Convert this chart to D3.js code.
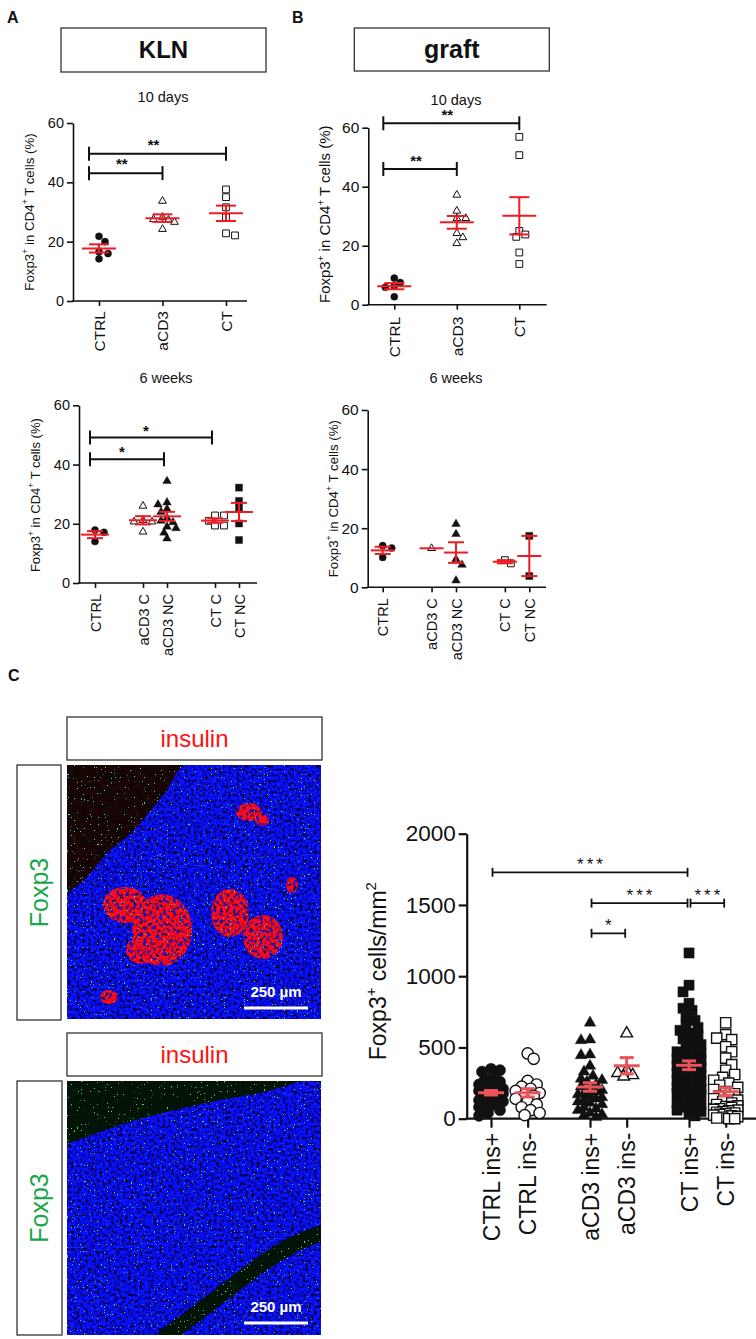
<!DOCTYPE html>
<html>
<head>
<meta charset="utf-8">
<script src="https://cdn.jsdelivr.net/npm/d3@7"></script>
<style>
  body { margin: 0; background: #fff; }
  svg { display: block; font-family: "Liberation Sans", Arial, sans-serif; }
</style>
</head>
<body>
<div id="fig"></div>
<script>
// ---- data: flow cytometry, % Foxp3+ in CD4+ T cells ----
const tenDayGroups = ['CTRL', 'aCD3', 'CT']
const sixWeekGroups = ['CTRL', 'aCD3 C', 'aCD3 NC', 'CT C', 'CT NC']
const pctTicks = [0, 20, 40, 60]

const kln10dCtrl = [21.8, 20.0, 16.6, 16.0, 14.2]
const kln10dAcd3 = [33.7, 28.3, 27.5, 27.3, 26.6, 24.2]
const kln10dCt = [37.6, 35.0, 31.6, 28.2, 22.8, 22.1]

const graft10dCtrl = [9.0, 7.5, 6.3, 5.9, 2.7]
const graft10dAcd3 = [37.2, 31.8, 29.3, 29.3, 24.2, 22.8, 20.8]
const graft10dCt = [56.9, 50.7, 25.0, 23.8, 23.0, 17.7, 13.8]

const kln6wCtrl = [17.9, 17.1, 14.0]
const kln6wAcd3C = [26.0, 21.2, 20.7, 20.7, 17.3]
const kln6wAcd3Nc = [34.4, 27.2, 26.5, 25.0, 24.0, 22.0, 21.0, 20.5, 19.0, 18.5, 17.0, 15.0]
const kln6wCtC = [22.8, 22.8, 21.0, 19.4, 19.4]
const kln6wCtNc = [32.2, 27.7, 25.4, 20.1, 14.5]

const graft6wCtrl = [14.1, 13.3, 10.1]
const graft6wAcd3C = [13.2]
const graft6wAcd3Nc = [21.4, 18.0, 9.5, 7.6, 2.3]
const graft6wCtC = [9.2, 8.1]
const graft6wCtNc = [17.4, 3.8]

const kln10dStats = [
    { from: 'CTRL', to: 'aCD3', at: 43.1, label: '**' },
    { from: 'CTRL', to: 'CT', at: 49.6, label: '**' }
]
const graft10dStats = [
    { from: 'CTRL', to: 'aCD3', at: 46.0, label: '**' },
    { from: 'CTRL', to: 'CT', at: 61.5, label: '**' }
]
const kln6wStats = [
    { from: 'CTRL', to: 'aCD3 NC', at: 41.8, label: '*' },
    { from: 'CTRL', to: 'CT C', at: 49.1, label: '*' }
]

// ---- data: Foxp3+ cells per mm2 in graft sections ----
const sectionGroups = ['CTRL ins+', 'CTRL ins-', 'aCD3 ins+', 'aCD3 ins-', 'CT ins+', 'CT ins-']
const densityTicks = [0, 500, 1000, 1500, 2000]
const ctrlInsPos = [350, 340, 330, 300, 280, 260, 250, 240, 230, 220, 210, 200, 195, 190, 180,
    175, 170, 160, 150, 145, 140, 130, 120, 110, 100, 90, 80, 60, 40, 20]
const ctrlInsNeg = [458, 420, 265, 240, 225, 210, 195, 180, 170, 160, 140, 120, 100, 80, 60, 40, 25]
const acd3InsPos = [673, 555, 550, 450, 445, 370, 330, 300, 280, 270, 260, 240, 225, 210, 200, 190,
    180, 170, 160, 150, 140, 130, 120, 110, 100, 80, 70, 60, 40, 30, 25, 10]
const acd3InsNeg = [598, 340, 320, 305, 295]
const ctInsPos = [1163, 937, 890, 810, 775, 760, 720, 690, 660, 640, 620, 600,
    580, 560, 540, 520, 500, 480, 470, 460, 450, 440, 430, 420, 410, 400, 390, 380, 370, 360,
    350, 340, 330, 320, 310, 300, 290, 280, 270, 260, 250, 240, 230, 220, 210, 200, 200, 190,
    180, 170, 170, 160, 150, 140, 140, 120, 110, 100, 80, 80, 60, 50, 40, 20]
const ctInsNeg = [673, 590, 565, 555, 505, 470, 425, 380, 340, 310, 290, 270, 250, 235, 220, 205,
    190, 175, 160, 150, 140, 130, 120, 110, 100, 90, 85, 80, 70, 65, 60, 55, 50, 45, 40, 35,
    30, 25, 20, 15, 10, 5, 0, 0]
const sectionStats = [
    { from: 'CTRL ins+', to: 'CT ins+', at: 1729, label: '***' },
    { from: 'aCD3 ins+', to: 'CT ins+', at: 1513, label: '***' },
    { from: 'CT ins+', to: 'CT ins-', at: 1513, label: '***' },
    { from: 'aCD3 ins+', to: 'aCD3 ins-', at: 1301, label: '*' }
]

const ink = '#111'
const font = '"Liberation Sans", Arial, sans-serif'

const fig = d3.select('#fig').append('svg')
    .attr('width', 756).attr('height', 1339)
    .attr('viewBox', [0, 0, 756, 1339])
const defs = fig.append('defs')

// spread points sideways so they don't sit on top of each other
function swarm(vals, y, dist, step, spread) {
    const placed = []
    const off = new Array(vals.length)
    const order = vals.map((v, i) => i).sort((a, b) => vals[b] - vals[a])
    for (const i of order) {
        const py = y(vals[i])
        let best = 0, bestD = -1
        for (let k = 0; k * step <= spread; k++) {
            const cands = k === 0 ? [0] : (placed.length % 2 ? [k * step, -k * step] : [-k * step, k * step])
            let found = false
            for (const c of cands) {
                const d = placed.length ? d3.min(placed, p => Math.hypot(p[0] - c, p[1] - py)) : Infinity
                if (d >= dist) { best = c; found = true; break }
                if (d > bestD) { bestD = d; best = c }
            }
            if (found) break
        }
        off[i] = best
        placed.push([best, py])
    }
    return off
}

function supText(sel, parts, fs) {
    let up = false
    parts.forEach(([t, sup]) => {
        const ts = sel.append('tspan').text(t)
        if (sup) { ts.attr('font-size', fs * 0.65).attr('dy', -fs * 0.42); up = true }
        else if (up) { ts.attr('dy', fs * 0.42); up = false }
    })
}

function drawScatter(p) {
    const g = fig.append('g')
    const y = d3.scaleLinear().domain(p.yDomain).range([p.bottom, p.top])
    const slots = p.clusters.map((c, i) => i + c * p.gap)
    const slotX = d3.scaleLinear().domain([0, d3.max(slots)]).range([p.firstTick, p.lastTick])
    const x = d3.scaleOrdinal(p.groups, slots.map(slotX))

    const ya = g.append('g')
        .attr('transform', `translate(${p.axisX},0)`)
        .call(d3.axisLeft(y).tickValues(p.yTicks).tickFormat(d3.format('d'))
            .tickSize(p.tick).tickSizeOuter(0).tickPadding(3))
        .attr('font-size', p.tickFs).attr('font-family', font)
    ya.select('.domain').attr('stroke', ink).attr('stroke-width', p.axisW)
    ya.selectAll('.tick line').attr('stroke', ink).attr('stroke-width', p.axisW)
    ya.selectAll('.tick text').attr('fill', ink)

    const xa = g.append('g')
        .attr('transform', `translate(0,${p.bottom})`)
        .call(d3.axisBottom(x).tickSize(p.xTick).tickSizeOuter(0))
        .attr('font-size', p.catFs).attr('font-family', font)
    xa.select('.domain').remove()
    xa.selectAll('.tick line').attr('stroke', ink).attr('stroke-width', p.axisW)
    xa.selectAll('.tick text')
        .attr('fill', ink)
        .attr('font-size', p.catFs)
        .attr('transform', 'rotate(-90)')
        .attr('text-anchor', 'end')
        .attr('x', -p.labelGap).attr('y', 0).attr('dy', '0.35em')
    g.append('line')
        .attr('x1', p.axisX - p.axisW / 2).attr('x2', p.axisEnd)
        .attr('y1', p.bottom).attr('y2', p.bottom)
        .attr('stroke', ink).attr('stroke-width', p.axisW)

    const yl = g.append('text')
        .attr('transform', `translate(${p.yLabelX},${(p.top + p.bottom) / 2 + p.yLabelShift}) rotate(-90)`)
        .attr('text-anchor', 'middle').attr('dy', '0.35em')
        .attr('font-size', p.yLabelFs).attr('fill', ink)
    supText(yl, p.yLabel, p.yLabelFs)

    if (p.title) {
        g.append('text')
            .attr('x', p.title.x).attr('y', p.title.y)
            .attr('text-anchor', 'middle').attr('font-size', 14.5).attr('fill', ink)
            .text(p.title.text)
    }

    p.series.forEach((vals, i) => {
        const cx = x(p.groups[i])
        const off = swarm(vals, y, p.dist, p.step, p.spread)
        const m = p.marks[i]
        g.append('g').selectAll('path')
            .data(vals)
            .join('path')
            .attr('d', d3.symbol(m.type, m.size))
            .attr('transform', (v, j) => `translate(${cx + off[j]},${y(v)})`)
            .attr('fill', m.open ? '#fff' : ink)
            .attr('stroke', ink)
            .attr('stroke-width', m.open ? p.openW : 0.4)
    })

    p.series.forEach((vals, i) => {
        const cx = x(p.groups[i])
        const mean = d3.mean(vals)
        const sem = vals.length > 1 ? d3.deviation(vals) / Math.sqrt(vals.length) : 0
        const eg = g.append('g').attr('stroke', p.red).attr('stroke-width', p.redW)
        eg.append('line')
            .attr('x1', cx - p.meanHalf).attr('x2', cx + p.meanHalf)
            .attr('y1', y(mean)).attr('y2', y(mean))
        if (sem > 0) {
            eg.append('line')
                .attr('x1', cx).attr('x2', cx)
                .attr('y1', y(mean - sem)).attr('y2', y(mean + sem))
            for (const v of [mean - sem, mean + sem]) {
                eg.append('line')
                    .attr('x1', cx - p.capHalf).attr('x2', cx + p.capHalf)
                    .attr('y1', y(v)).attr('y2', y(v))
            }
        }
    })

    p.stats.forEach(s => {
        const x1 = x(s.from) + p.bracketPad[0]
        const x2 = x(s.to) + p.bracketPad[1]
        const by = y(s.at)
        const bg = g.append('g').attr('stroke', ink).attr('stroke-width', p.bracketW)
        bg.append('line').attr('x1', x1).attr('x2', x2).attr('y1', by).attr('y2', by)
        for (const bx of [x1, x2]) {
            bg.append('line').attr('x1', bx).attr('x2', bx)
                .attr('y1', by - p.bracketTick).attr('y2', by + p.bracketTick)
        }
        g.append('text')
            .attr('x', (x1 + x2) / 2 + p.starShift).attr('y', by - p.starLift)
            .attr('text-anchor', 'middle')
            .attr('font-size', p.starFs).attr('font-weight', p.starWeight)
            .attr('letter-spacing', p.starSpacing)
            .attr('fill', ink)
            .text(s.label)
    })
}

const pctLabel = [['Foxp3', 0], ['+', 1], [' in CD4', 0], ['+', 1], [' T cells (%)', 0]]
const markTen = [
    { type: d3.symbolCircle, size: 40, open: false },
    { type: d3.symbolTriangle, size: 26, open: true },
    { type: d3.symbolSquare, size: 46, open: true }
]
const markSix = [
    { type: d3.symbolCircle, size: 40, open: false },
    { type: d3.symbolTriangle, size: 26, open: true },
    { type: d3.symbolTriangle, size: 32, open: false },
    { type: d3.symbolSquare, size: 46, open: true },
    { type: d3.symbolSquare, size: 50, open: false }
]
const pctStyle = {
    yDomain: [0, 60], yTicks: pctTicks, tick: 6, xTick: 5, axisW: 1.6,
    red: '#ee1c25', redW: 2, meanHalf: 17, capHalf: 10,
    dist: 6.5, step: 3, spread: 14, openW: 1,
    bracketW: 2, bracketTick: 7, starFs: 15, starWeight: 'bold', starSpacing: 0, starShift: -4,
    yLabel: pctLabel
}

// A, 10 days
drawScatter(Object.assign({}, pctStyle, {
    groups: tenDayGroups, series: [kln10dCtrl, kln10dAcd3, kln10dCt], marks: markTen, stats: kln10dStats,
    top: 123, bottom: 301, axisX: 73, axisEnd: 247, firstTick: 99, lastTick: 226,
    clusters: [0, 1, 2], gap: 0, tickFs: 14.5, catFs: 15.5, labelGap: 10,
    yLabelX: 29, yLabelShift: 0, yLabelFs: 13.3, bracketPad: [-10, 0], starLift: 4,
    title: { x: 163, y: 102, text: '10 days' }
}))
// B, 10 days
drawScatter(Object.assign({}, pctStyle, {
    groups: tenDayGroups, series: [graft10dCtrl, graft10dAcd3, graft10dCt], marks: markTen, stats: graft10dStats,
    top: 127.7, bottom: 304.7, axisX: 368.3, axisEnd: 546.7, firstTick: 394.3, lastTick: 519.3,
    clusters: [0, 1, 2], gap: 0, tickFs: 15.5, catFs: 15.5, labelGap: 12,
    yLabelX: 325, yLabelShift: -2, yLabelFs: 15, bracketPad: [-11, 0], starLift: 3,
    title: { x: 456, y: 105, text: '10 days' }
}))
// A, 6 weeks
drawScatter(Object.assign({}, pctStyle, {
    groups: sixWeekGroups, series: [kln6wCtrl, kln6wAcd3C, kln6wAcd3Nc, kln6wCtC, kln6wCtNc], marks: markSix, stats: kln6wStats,
    top: 405.3, bottom: 583, axisX: 79, axisEnd: 257, firstTick: 95, lastTick: 239,
    clusters: [0, 1, 1, 2, 2], gap: 1, tickFs: 14.5, catFs: 14.5, labelGap: 11,
    yLabelX: 35, yLabelShift: 1, yLabelFs: 13, bracketPad: [-5, -3], starLift: 2,
    meanHalf: 14, capHalf: 8, starShift: -5,
    title: { x: 166, y: 383, text: '6 weeks' }
}))
// B, 6 weeks
drawScatter(Object.assign({}, pctStyle, {
    groups: sixWeekGroups, series: [graft6wCtrl, graft6wAcd3C, graft6wAcd3Nc, graft6wCtC, graft6wCtNc], marks: markSix, stats: [],
    top: 410, bottom: 587.3, axisX: 367.7, axisEnd: 546, firstTick: 382.7, lastTick: 529.3,
    clusters: [0, 1, 1, 2, 2], gap: 1, tickFs: 15.5, catFs: 14.5, labelGap: 11,
    yLabelX: 333, yLabelShift: 0, yLabelFs: 13.3, bracketPad: [0, 0], starLift: 3,
    meanHalf: 12, capHalf: 8,
    title: { x: 456, y: 383, text: '6 weeks' }
}))
// C, sections
drawScatter({
    groups: sectionGroups, series: [ctrlInsPos, ctrlInsNeg, acd3InsPos, acd3InsNeg, ctInsPos, ctInsNeg],
    marks: [
        { type: d3.symbolCircle, size: 100, open: false },
        { type: d3.symbolCircle, size: 100, open: true },
        { type: d3.symbolTriangle, size: 58, open: false },
        { type: d3.symbolTriangle, size: 60, open: true },
        { type: d3.symbolSquare, size: 105, open: false },
        { type: d3.symbolSquare, size: 105, open: true }
    ],
    stats: sectionStats,
    yDomain: [0, 2000], yTicks: densityTicks, tick: 8, xTick: 9, axisW: 2.2,
    top: 833.7, bottom: 1118.7, axisX: 466.7, axisEnd: 756, firstTick: 491, lastTick: 725.7,
    clusters: [0, 0, 1, 1, 2, 2], gap: 0.7, tickFs: 22.5, catFs: 23, labelGap: 14,
    yLabelX: 378, yLabelShift: -5, yLabelFs: 23,
    yLabel: [['Foxp3', 0], ['+', 1], [' cells/mm', 0], ['2', 1]],
    red: '#e8545a', redW: 3, meanHalf: 13, capHalf: 7,
    dist: 7.5, step: 3, spread: 13, openW: 1.4,
    bracketW: 1.8, bracketTick: 4.5, bracketPad: [1.5, -1.5],
    starFs: 17, starWeight: 'normal', starSpacing: 3, starShift: 1.5, starLift: 2
})

// ---- panel letters and header boxes ----
const letters = [['A', 7, 23], ['B', 292, 23], ['C', 8, 681]]
fig.selectAll('text.letter').data(letters).join('text')
    .attr('class', 'letter')
    .attr('x', d => d[1]).attr('y', d => d[2])
    .attr('font-size', 16).attr('font-weight', 'bold').attr('fill', ink)
    .text(d => d[0])

function headerBox(x, y, w, h, label, color, fs, bold) {
    fig.append('rect').attr('x', x).attr('y', y).attr('width', w).attr('height', h)
        .attr('fill', '#fff').attr('stroke', '#333').attr('stroke-width', 1.3)
    fig.append('text').attr('x', x + w / 2).attr('y', y + h / 2).attr('dy', '0.35em')
        .attr('text-anchor', 'middle').attr('font-size', fs)
        .attr('font-weight', bold ? 'bold' : 'normal').attr('fill', color).text(label)
}
function sideBox(x, y, w, h, label) {
    fig.append('rect').attr('x', x).attr('y', y).attr('width', w).attr('height', h)
        .attr('fill', '#fff').attr('stroke', '#333').attr('stroke-width', 1.3)
    fig.append('text')
        .attr('transform', `translate(${x + w / 2},${y + h / 2}) rotate(-90)`)
        .attr('dy', '0.35em').attr('text-anchor', 'middle')
        .attr('font-size', 25).attr('fill', '#1aa64a').text(label)
}
headerBox(61, 28, 205, 44, 'KLN', ink, 24, true)
headerBox(354.3, 28, 195, 43, 'graft', ink, 25, true)

// ---- micrographs (illustrative texture) ----
function noiseFilter(id, freq, octaves, seed, matrix) {
    const f = defs.append('filter').attr('id', id)
        .attr('x', 0).attr('y', 0).attr('width', 1).attr('height', 1)
        .attr('color-interpolation-filters', 'sRGB')
    f.append('feTurbulence').attr('type', 'fractalNoise').attr('baseFrequency', freq)
        .attr('numOctaves', octaves).attr('seed', seed).attr('result', 'n')
    f.append('feColorMatrix').attr('in', 'n').attr('type', 'matrix').attr('values', matrix).attr('result', 'c')
    f.append('feComposite').attr('in', 'c').attr('in2', 'SourceAlpha').attr('operator', 'in')
}
noiseFilter('nuclei', 0.35, 2, 4, '0 0 0 0 0.03  0 0 0.25 0 -0.08  0 0 3 0 -0.6  0 0 0 0 1')
noiseFilter('islet', 0.3, 2, 9, '2.2 0 0 0 -0.2  0 0 0 0 0.04  0 0 0 0 0.1  5 0 0 0 -1.4')
noiseFilter('speck', 0.7, 1, 21, '0 0 0 0 0.25  0 0 0 0 0.9  0 0 0 0 0.55  25 0 0 0 -17.3')
noiseFilter('haze', 0.2, 2, 2, '0.16 0 0 0 0.01  0 0 0 0 0.02  0 0 0 0 0.02  0 0 0 0 1')

function micrograph(x, y, w, h, opt) {
    const clipId = 'clip' + opt.id
    defs.append('clipPath').attr('id', clipId)
        .append('rect').attr('x', x).attr('y', y).attr('width', w).attr('height', h)
    const g = fig.append('g').attr('clip-path', `url(#${clipId})`)
    g.append('rect').attr('x', x).attr('y', y).attr('width', w).attr('height', h)
        .attr('fill', opt.bg).attr('filter', opt.haze ? 'url(#haze)' : null)
    const line = d3.line().curve(d3.curveCatmullRom).x(d => x + d[0]).y(d => y + d[1])
    g.append('path').attr('d', line(opt.tissue) + 'Z')
        .attr('fill', '#000').attr('filter', 'url(#nuclei)')
    if (opt.gap) {
        g.append('path').attr('d', d3.line().curve(d3.curveBasis).x(d => x + d[0]).y(d => y + d[1])(opt.gap))
            .attr('fill', 'none').attr('stroke', opt.bg).attr('stroke-width', 16)
    }
    if (opt.islets.length) {
        g.append('g').attr('filter', 'url(#islet)')
            .selectAll('ellipse').data(opt.islets).join('ellipse')
            .attr('cx', d => x + d[0]).attr('cy', d => y + d[1])
            .attr('rx', d => d[2]).attr('ry', d => d[3]).attr('fill', '#000')
    }
    g.append('rect').attr('x', x).attr('y', y).attr('width', w).attr('height', h)
        .attr('fill', '#000').attr('filter', 'url(#speck)')
    g.append('text').attr('x', opt.scale[0]).attr('y', opt.scale[1])
        .attr('text-anchor', 'middle').attr('font-size', 15).attr('font-weight', 'bold')
        .attr('fill', '#fff').text('250 µm')
    g.append('line').attr('x1', opt.scale[0] - 32).attr('x2', opt.scale[0] + 32)
        .attr('y1', opt.scale[1] + 11).attr('y2', opt.scale[1] + 11)
        .attr('stroke', '#fff').attr('stroke-width', 3)
}

headerBox(67, 717, 255, 43, 'insulin', '#ff1010', 24, false)
sideBox(17, 765, 44, 255, 'Foxp3')
micrograph(67, 765, 254, 254, {
    id: 1, bg: '#120505', haze: true,
    tissue: [[-2, 130], [20, 112], [40, 88], [62, 70], [80, 50], [100, 25], [120, -2], [256, -2], [256, 256], [-2, 256]],
    islets: [[95, 165, 30, 36], [58, 140, 22, 18], [75, 185, 16, 14], [163, 148, 19, 24], [196, 172, 20, 22],
        [182, 47, 13, 9], [195, 55, 7, 6], [42, 232, 9, 7], [225, 120, 6, 8]],
    scale: [276, 997]
})

headerBox(67, 1033, 255, 43, 'insulin', '#ff1010', 24, false)
sideBox(17, 1081, 45, 254, 'Foxp3')
micrograph(67, 1081, 254, 254, {
    id: 2, bg: '#031305', haze: false,
    tissue: [[-2, 64], [53, 44], [120, 26], [193, 12], [256, 4], [256, 256], [-2, 256]],
    gap: [[95, 258], [140, 225], [190, 185], [230, 160], [262, 150]],
    islets: [],
    scale: [276, 1312]
})
</script>
</body>
</html>
